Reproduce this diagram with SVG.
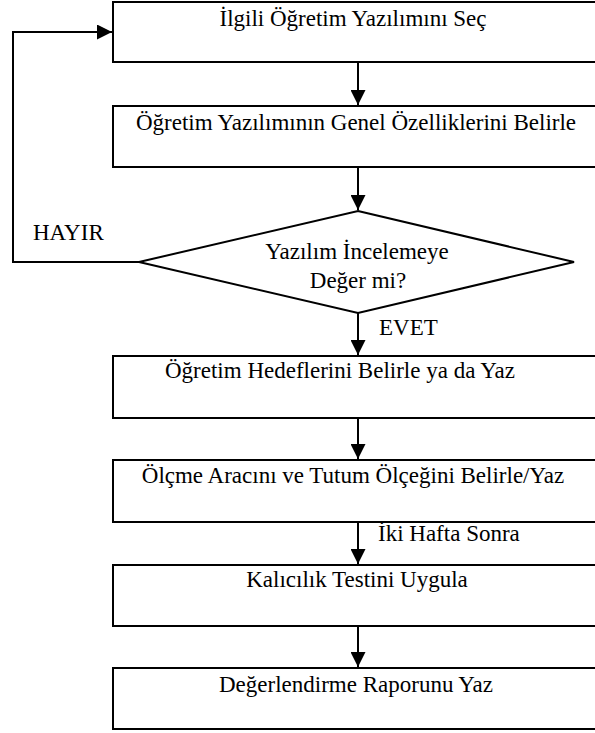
<svg xmlns="http://www.w3.org/2000/svg" width="595" height="733" viewBox="0 0 595 733">
<style>
.box{fill:#fff;stroke:#000;stroke-width:2}
.t{font-family:"Liberation Serif","Times New Roman",serif;font-size:23px;fill:#000;text-anchor:middle}
.l{font-family:"Liberation Serif","Times New Roman",serif;font-size:23px;fill:#000}
.c{fill:none;stroke:#000;stroke-width:2}
</style>
<defs>
<marker id="ah" viewBox="0 0 10 10" refX="10" refY="5" markerWidth="16" markerHeight="15" markerUnits="userSpaceOnUse" orient="auto">
<path d="M0,0 L10,5 L0,10 Z" fill="#000"/>
</marker>
</defs>
<rect width="595" height="733" fill="#fff"/>
<g id="n1"><rect class="box" x="113" y="2" width="490" height="60"/><text class="t" x="353" y="26">İlgili Öğretim Yazılımını Seç</text></g>
<g id="n2"><rect class="box" x="113" y="106" width="490" height="61"/><text class="t" x="356" y="130">Öğretim Yazılımının Genel Özelliklerini Belirle</text></g>
<g id="n3"><polygon class="box" points="358,211 574,262 358,313 139,262"/><text class="t" x="357" y="259">Yazılım İncelemeye</text><text class="t" x="358" y="288">Değer mi?</text></g>
<g id="n4"><rect class="box" x="113" y="356" width="490" height="62"/><text class="t" x="340" y="378">Öğretim Hedeflerini Belirle ya da Yaz</text></g>
<g id="n5"><rect class="box" x="113" y="460" width="490" height="62"/><text class="t" x="353" y="483">Ölçme Aracını ve Tutum Ölçeğini Belirle/Yaz</text></g>
<g id="n6"><rect class="box" x="113" y="565" width="490" height="61"/><text class="t" x="357" y="587">Kalıcılık Testini Uygula</text></g>
<g id="n7"><rect class="box" x="113" y="668" width="490" height="61"/><text class="t" x="356" y="692">Değerlendirme Raporunu Yaz</text></g>
<g id="connectors">
<line class="c" x1="358" y1="62" x2="358" y2="105" marker-end="url(#ah)"/>
<line class="c" x1="358" y1="167" x2="358" y2="210" marker-end="url(#ah)"/>
<line class="c" x1="358" y1="313" x2="358" y2="355" marker-end="url(#ah)"/>
<line class="c" x1="358" y1="418" x2="358" y2="459" marker-end="url(#ah)"/>
<line class="c" x1="358" y1="522" x2="358" y2="564" marker-end="url(#ah)"/>
<line class="c" x1="358" y1="626" x2="358" y2="667" marker-end="url(#ah)"/>
<polyline class="c" points="139,262 13,262 13,32 112,32" marker-end="url(#ah)"/>
<text class="l" x="33" y="240">HAYIR</text>
<text class="l" x="379" y="335">EVET</text>
<text class="l" x="378" y="541">İki Hafta Sonra</text>
</g>
</svg>
